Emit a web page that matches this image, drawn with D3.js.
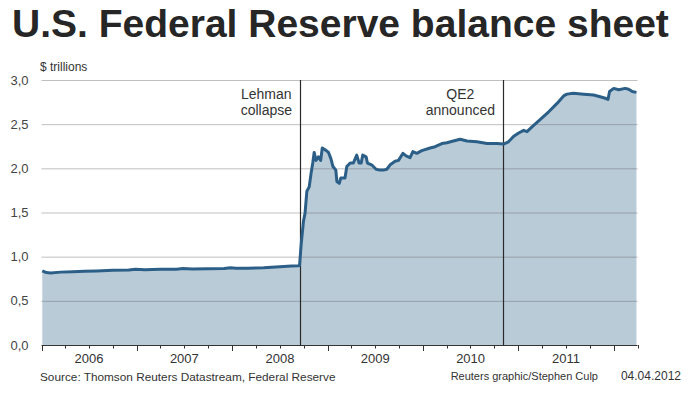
<!DOCTYPE html>
<html><head><meta charset="utf-8">
<script src="https://cdn.jsdelivr.net/npm/d3@7"></script>
<style>
body{margin:0;background:#fff}
svg{display:block}
text{font-family:Arial,"Liberation Sans",Helvetica,sans-serif}
</style>
</head><body><svg id="c" width="688" height="394"></svg>
<script>
// ---- data ----
const dates = [
"2006-01-04","2006-01-20","2006-02-05","2006-03-15","2006-05-01","2006-06-15","2006-08-01","2006-10-01","2006-12-01","2006-12-27",
"2007-02-01","2007-04-01","2007-06-01","2007-06-27","2007-08-01","2007-10-01","2007-12-01","2007-12-26","2008-01-15","2008-03-01",
"2008-05-01","2008-07-01","2008-08-15","2008-09-10",
"2008-09-15","2008-09-21","2008-09-30","2008-10-06","2008-10-13","2008-10-22","2008-10-29","2008-11-05","2008-11-10","2008-11-17",
"2008-11-26","2008-12-05","2008-12-11","2008-12-22","2009-01-04","2009-01-13","2009-01-21","2009-02-01","2009-02-05","2009-02-14",
"2009-02-20","2009-03-08","2009-03-15","2009-03-28","2009-04-09","2009-04-22","2009-05-01","2009-05-09","2009-05-15","2009-05-28",
"2009-06-02","2009-06-18","2009-07-05","2009-07-20","2009-08-02","2009-08-15","2009-08-28","2009-09-16","2009-09-29","2009-10-16",
"2009-10-28","2009-11-12","2009-11-23","2009-12-08","2009-12-27","2010-01-28","2010-02-16","2010-03-14","2010-04-02","2010-04-27",
"2010-05-23","2010-06-18","2010-07-26","2010-09-03","2010-10-11","2010-11-05","2010-11-24","2010-12-13","2011-01-02","2011-01-21",
"2011-02-03","2011-02-22","2011-03-26","2011-04-27","2011-05-29","2011-06-23","2011-07-06","2011-07-31","2011-09-08","2011-10-16",
"2011-11-10","2011-12-03","2011-12-10","2011-12-16","2012-01-01","2012-01-20","2012-02-14","2012-02-27","2012-03-12","2012-03-28"
];
const values = [
0.84,0.82,0.815,0.825,0.83,0.835,0.838,0.845,0.849,0.858,
0.852,0.857,0.858,0.866,0.86,0.862,0.866,0.874,0.87,0.868,
0.874,0.887,0.893,0.898,
0.90,1.13,1.40,1.49,1.74,1.79,1.94,2.07,2.18,2.09,
2.13,2.09,2.23,2.21,2.18,2.11,2.02,1.98,1.85,1.83,
1.89,1.89,2.02,2.06,2.06,2.15,2.06,2.06,2.15,2.13,
2.06,2.04,1.99,1.98,1.98,1.99,2.04,2.08,2.09,2.17,
2.14,2.12,2.19,2.17,2.20,2.23,2.245,2.28,2.29,2.31,
2.33,2.31,2.30,2.28,2.28,2.275,2.30,2.36,2.40,2.43,
2.415,2.47,2.555,2.64,2.735,2.82,2.84,2.85,2.84,2.83,
2.81,2.79,2.78,2.87,2.905,2.89,2.905,2.895,2.87,2.86
];
const yTicks = [0, 0.5, 1, 1.5, 2, 2.5, 3];
const yTickLabels = ["0,0","0,5","1,0","1,5","2,0","2,5","3,0"];
const yearLabels = ["2006","2007","2008","2009","2010","2011"];
const eventDates = ["2008-09-15","2010-11-03"];
const eventLabels = [["Lehman","collapse"],["QE2","announced"]];
const titleText = "U.S. Federal Reserve balance sheet";
const unitText = "$ trillions";
const sourceText = "Source: Thomson Reuters Datastream, Federal Reserve";
const creditText = "Reuters graphic/Stephen Culp";
const dateText = "04.04.2012";

// ---- drawing ----
const parse = d3.timeParse("%Y-%m-%d");
const data = dates.map((d,i)=>({date:parse(d), value:values[i]}));
const svg = d3.select("#c");

const x = d3.scaleTime().domain([parse("2006-01-01"), parse("2012-04-01")]).range([41.5, 637.5]);
const y = d3.scaleLinear().domain([0,3]).range([345, 80]);

// title
const title = svg.append("text").attr("x",12).attr("y",37)
  .attr("font-weight","bold").attr("font-size",39).attr("fill","#262626").text(titleText);
const tw = title.node().getComputedTextLength();
title.attr("font-size", 39*657/tw);

// unit
svg.append("text").attr("x",40).attr("y",71).attr("font-size",12).attr("fill","#333").text(unitText);

// area
svg.append("path").datum(data)
  .attr("fill","#bacbd8")
  .attr("d", d3.area().x(d=>x(d.date)).y0(y(0)).y1(d=>y(d.value)));

// grid lines
svg.append("g").selectAll("line").data(yTicks.filter(v=>v>0)).join("line")
  .attr("x1",x.range()[0]).attr("x2",x.range()[1])
  .attr("y1",d=>y(d)+0.5).attr("y2",d=>y(d)+0.5)
  .attr("stroke","rgba(90,90,90,0.38)").attr("stroke-width",1);

// y labels
svg.append("g").selectAll("text").data(yTicks).join("text")
  .attr("x",28.5).attr("y",d=>y(d)+4.5).attr("text-anchor","end")
  .attr("font-size",13).attr("fill","#444")
  .text((d,i)=>yTickLabels[i]);

// event lines
eventDates.forEach((ds,i)=>{
  const xe = Math.round(x(parse(ds)))+0.5;
  svg.append("line").attr("x1",xe).attr("x2",xe).attr("y1",y(3)).attr("y2",y(0))
    .attr("stroke","#2a2a2a").attr("stroke-width",1.2);
  const g = svg.append("g");
  const t = eventLabels[i].map((s,j)=>g.append("text").attr("y", j===0?98.5:115)
      .attr("font-size",14).attr("fill","#333").attr("text-anchor","middle").text(s));
  const w = d3.max(t, n=>n.node().getComputedTextLength());
  t.forEach(n=>n.attr("x", xe - 8.5 - w/2));
});

// line
svg.append("path").datum(data)
  .attr("fill","none").attr("stroke","#2c5f87").attr("stroke-width",3)
  .attr("stroke-linejoin","round")
  .attr("d", d3.line().x(d=>x(d.date)).y(d=>y(d.value)));

// x axis
const axisG = svg.append("g");
axisG.append("line").attr("x1",x.range()[0]).attr("x2",x.range()[1])
  .attr("y1",345.5).attr("y2",345.5).attr("stroke","#333").attr("stroke-width",1);
const quarters = d3.timeMonth.every(3).range(parse("2006-01-01"), parse("2012-04-02"));
axisG.selectAll("line.t").data(quarters).join("line").attr("class","t")
  .attr("x1",d=>Math.round(x(d))+0.5).attr("x2",d=>Math.round(x(d))+0.5)
  .attr("y1",345).attr("y2",d=>d.getMonth()===0?351:348.5)
  .attr("stroke","#333").attr("stroke-width",1);
axisG.selectAll("text").data(yearLabels).join("text")
  .attr("x",d=>x(parse(d+"-07-02"))).attr("y",362.5).attr("text-anchor","middle")
  .attr("font-size",13).attr("fill","#333").text(d=>d);

// footer
svg.append("text").attr("x",40).attr("y",381).attr("font-size",11.8).attr("fill","#333").text(sourceText);
svg.append("text").attr("x",598).attr("y",380).attr("text-anchor","end").attr("font-size",11).attr("fill","#333").text(creditText);
svg.append("text").attr("x",681).attr("y",380).attr("text-anchor","end").attr("font-size",12).attr("fill","#333").text(dateText);
</script>
</body></html>
